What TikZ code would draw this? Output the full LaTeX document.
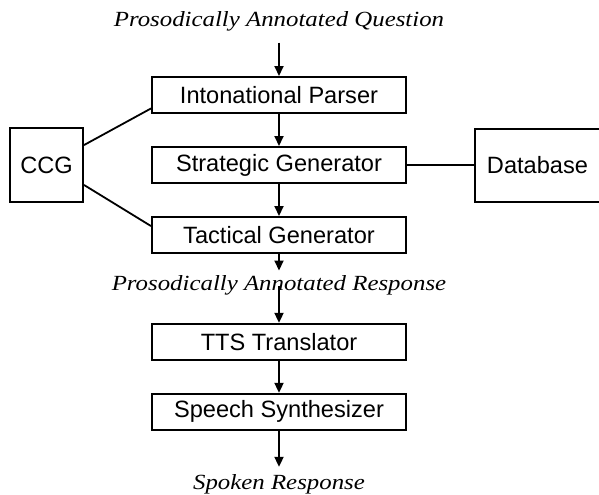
\documentclass[tikz,border=0pt]{standalone}
\usepackage{fontspec}
\setmainfont{Liberation Serif}
\setsansfont{Liberation Sans}
\newfontfamily\lblfont{Liberation Serif}[FakeStretch=1.15]
\usepackage{tikz}
\usetikzlibrary{arrows.meta,positioning}

\begin{document}
\begin{tikzpicture}[
  x=0.5pt, y=-0.5pt,
  proc/.style={rectangle, draw, line width=1pt, minimum width=127pt,
    minimum height=18pt, inner sep=0pt,
    font=\sffamily\fontsize{11.8}{14}\selectfont},
  side/.style={rectangle, draw, line width=1pt, inner sep=0pt,
    font=\sffamily\fontsize{11.8}{14}\selectfont},
  lbl/.style={inner sep=0pt, text height=7.5pt, text depth=2.5pt,
    font=\lblfont\itshape\fontsize{10.8}{13}\selectfont},
  arr/.style={-{Triangle[length=5pt,width=4.5pt]}, line width=1pt},
  link/.style={line width=0.9pt},
]
\useasboundingbox (0,0) rectangle (599,494);
\node[proc] (parser) at (279,95) {Intonational Parser};
\node[lbl, above=22.25pt of parser] (question) {Prosodically Annotated Question};
\node[proc, below=16pt of parser] (strat) {Strategic Generator};
\node[proc, below=16pt of strat] (tact) {Tactical Generator};
\node[side, minimum width=36.5pt, minimum height=37pt, left=33.5pt of strat] (ccg) {CCG};
\node[side, minimum width=62.5pt, minimum height=36.5pt, right=33.5pt of strat] (db) {Database};
\node[lbl, below=10.75pt of tact] (resp) {Prosodically Annotated Response};
\node[proc, below=13.25pt of resp] (tts) {TTS Translator};
\node[proc, below=16pt of tts] (synth) {Speech Synthesizer};
\node[lbl, below=21.5pt of synth] (spoken) {Spoken Response};

\draw[arr, shorten <=5.5pt] (question) -- (parser);
\draw[arr] (parser) -- (strat);
\draw[arr] (strat) -- (tact);
\draw[arr, shorten >=2.5pt] (tact) -- (resp);
\draw[arr] (resp.center) -- (tts);
\draw[arr] (tts) -- (synth);
\draw[arr, shorten >=3.5pt] (synth) -- (spoken);
\draw[link] (ccg.28) -- (parser.186);
\draw[link] (ccg.-28) -- (tact.176);
\draw[link] (strat) -- (db);
\end{tikzpicture}
\end{document}
